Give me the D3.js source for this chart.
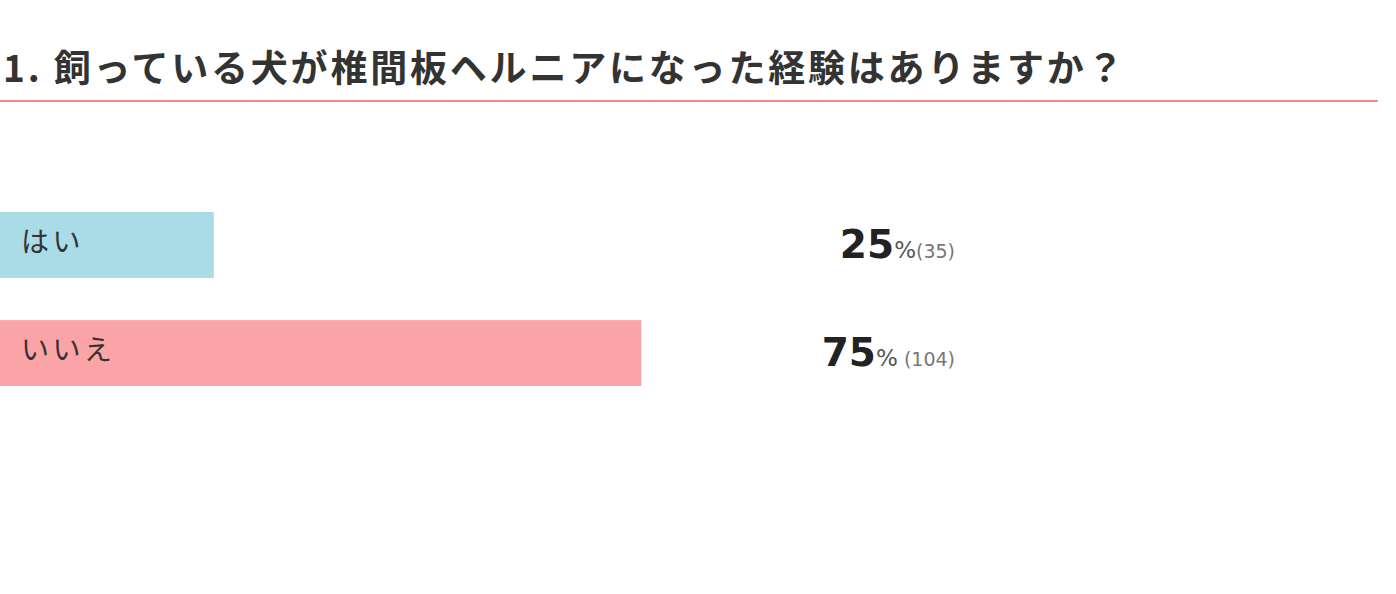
<!DOCTYPE html>
<html>
<head>
<meta charset="utf-8">
<script src="https://cdn.jsdelivr.net/npm/d3@7"></script>
<style>
  body { margin: 0; background: #fff; }
  text { font-family: "Noto Sans CJK JP", "Noto Sans", sans-serif; }
</style>
</head>
<body>
<div id="chart-area"></div>
<script>
// survey data
var title = "1. 飼っている犬が椎間板ヘルニアになった経験はありますか？";
var answers = ["はい", "いいえ"];
var percents = [25, 75];
var counts = [35, 104];
var colors = ["#a9dce6", "#fba4a7"];

var width = 1396, height = 594;

var svg = d3.select("#chart-area")
  .append("svg")
  .attr("width", width)
  .attr("height", height);

svg.append("text")
  .attr("x", 3)
  .attr("y", 82)
  .attr("font-size", "37px")
  .attr("font-weight", "bold")
  .attr("letter-spacing", "2.8px")
  .attr("fill", "#333")
  .text(title);

svg.append("line")
  .attr("x1", 0).attr("x2", 1378)
  .attr("y1", 101).attr("y2", 101)
  .attr("stroke", "#f08a8a")
  .attr("stroke-width", 2);

var x = d3.scaleLinear().domain([0, 100]).range([0, 855]);
var y = d3.scaleBand().domain(answers).range([212, 386]).paddingInner(0.39);

var rows = svg.selectAll("g.row").data(answers).enter()
  .append("g")
  .attr("class", "row")
  .attr("transform", d => "translate(0," + y(d) + ")");

rows.append("rect")
  .attr("x", 0)
  .attr("width", (d, i) => x(percents[i]))
  .attr("height", y.bandwidth())
  .attr("fill", (d, i) => colors[i]);

rows.append("text")
  .attr("x", 21)
  .attr("y", y.bandwidth() / 2 + 7)
  .attr("font-size", "28px")
  .attr("letter-spacing", "3.5px")
  .attr("fill", "#333")
  .text(d => d);

var val = rows.append("text")
  .attr("x", 955)
  .attr("y", y.bandwidth() / 2 + 13)
  .attr("text-anchor", "end")
  .style("font-family", "'DejaVu Sans', Verdana, sans-serif");

val.append("tspan")
  .attr("font-size", "39px")
  .attr("font-weight", "bold")
  .attr("fill", "#222")
  .text((d, i) => percents[i]);
val.append("tspan")
  .attr("font-size", "23px")
  .attr("fill", "#555")
  .text("%");
val.append("tspan")
  .attr("font-size", "19px")
  .attr("fill", "#777")
  .text((d, i) => (i == 0 ? "(" : " (") + counts[i] + ")");
</script>
</body>
</html>
